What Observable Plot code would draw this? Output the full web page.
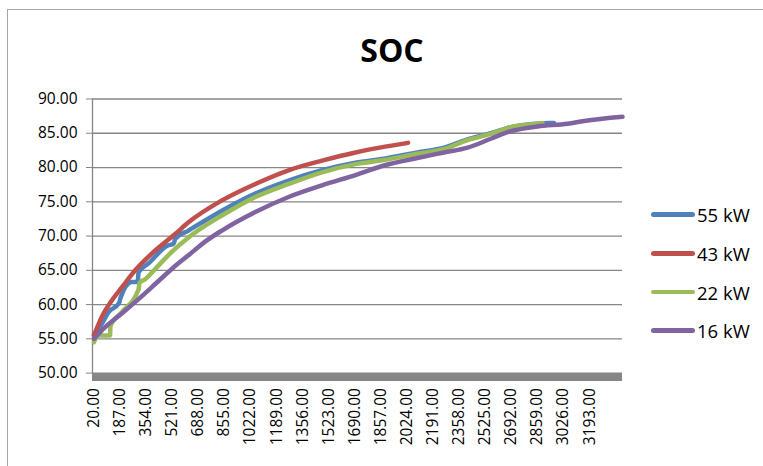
<!DOCTYPE html>
<html>
<head>
<meta charset="utf-8">
<script src="https://cdn.jsdelivr.net/npm/d3@7"></script>
<script src="https://cdn.jsdelivr.net/npm/@observablehq/plot@0.6"></script>
<style>
  body { margin: 0; background: #fff; }
  #wrap { position: relative; width: 763px; height: 466px; overflow: hidden; background: #fff; }
  #border { position: absolute; left: 7px; top: 9px; width: 820px; height: 520px; border: 1.5px solid #a6a6a6; box-sizing: border-box; }
  #title { position: absolute; left: 292px; width: 200px; top: 28px; text-align: center; font: bold 32px/44px 'Open Sans', sans-serif; color: #000; }
  #chart { position: absolute; left: 0; top: 0; }
  .item { position: absolute; left: 651px; height: 24px; display: flex; align-items: center; font: 18.5px 'Open Sans', sans-serif; color: #000; white-space: nowrap; }
  .swatch { width: 44px; height: 4.5px; border-radius: 3px; margin-right: 2px; }
</style>
</head>
<body>
<div id="wrap">
  <div id="border"></div>
  <div id="chart"></div>
  <div id="title">SOC</div>
  <div id="legend"></div>
</div>
<script>
// ---- data ----
const seriesNames = ["55 kW", "43 kW", "22 kW", "16 kW"];
const seriesColors = ["#4F81BD", "#C0504D", "#9BBB59", "#8064A2"];

const xTickLabels = [20, 187, 354, 521, 688, 855, 1022, 1189, 1356, 1523, 1690, 1857, 2024, 2191, 2358, 2525, 2692, 2859, 3026, 3193];
const yTickLabels = [50, 55, 60, 65, 70, 75, 80, 85, 90];

const x55 = [20, 70, 113, 180, 190, 262, 300, 305, 369, 490, 530, 540, 625, 839, 1053, 1266, 1480, 1694, 1877, 2091, 2262, 2412, 2561, 2689, 2860, 2930, 2965];
const y55 = [55.6, 57.2, 58.9, 60.2, 61.0, 63.3, 63.3, 64.7, 66.0, 68.6, 68.9, 69.6, 70.8, 73.7, 76.2, 78.1, 79.6, 80.7, 81.3, 82.2, 82.9, 84.1, 85.0, 85.9, 86.4, 86.5, 86.5];

const x43 = [20, 70, 134, 198, 284, 412, 540, 625, 839, 1053, 1266, 1480, 1694, 1850, 2031];
const y43 = [55.5, 58.2, 60.6, 62.5, 65.0, 67.9, 70.3, 72.0, 75.2, 77.6, 79.6, 81.0, 82.2, 82.9, 83.6];

const x22 = [20, 45, 123, 125, 198, 305, 312, 348, 412, 518, 625, 839, 1053, 1266, 1480, 1694, 1877, 2091, 2262, 2412, 2561, 2689, 2860, 2892];
const y22 = [54.5, 55.5, 55.5, 56.9, 58.9, 62.2, 63.2, 63.7, 65.2, 67.7, 69.8, 73.0, 75.7, 77.6, 79.3, 80.5, 81.1, 82.0, 82.7, 84.0, 84.9, 85.9, 86.4, 86.5];

const x16 = [20, 91, 198, 305, 412, 518, 625, 745, 839, 1053, 1266, 1480, 1694, 1877, 2091, 2262, 2412, 2561, 2689, 2860, 3052, 3159, 3404];
const y16 = [55.0, 56.7, 58.7, 60.8, 63.0, 65.2, 67.2, 69.4, 70.8, 73.5, 75.7, 77.4, 78.9, 80.3, 81.4, 82.2, 82.9, 84.2, 85.3, 86.0, 86.4, 86.8, 87.4];

// ---- build table ----
const xs = [x55, x43, x22, x16];
const ys = [y55, y43, y22, y16];
const rows = [];
seriesNames.forEach((s, i) => xs[i].forEach((x, j) => rows.push({series: s, x, y: ys[i][j]})));

const grid = "#868686";
const chart = Plot.plot({
  width: 763,
  height: 466,
  marginLeft: 92,
  marginRight: 141,
  marginTop: 98.5,
  marginBottom: 93.4,
  x: {domain: [10.4, 3404], label: null},
  y: {domain: [50, 90], label: null},
  color: {domain: seriesNames, range: seriesColors},
  style: {fontFamily: "'Open Sans', sans-serif", fontSize: "15.5px", color: "#000", background: "transparent", overflow: "visible"},
  marks: [
    Plot.gridY(yTickLabels, {stroke: grid, strokeOpacity: 1, strokeWidth: 1.3}),
    Plot.ruleY([50], {stroke: grid, strokeWidth: 8, dy: 4}),
    Plot.frame({anchor: "left", stroke: grid, strokeWidth: 1.3}),
    Plot.axisY(yTickLabels, {tickSize: 6, tickPadding: 9, tickFormat: d => d.toFixed(2), stroke: grid, fill: "#000", label: null}),
    Plot.axisX(xTickLabels, {tickSize: 0, tickPadding: 15, tickRotate: -90, tickFormat: d => d.toFixed(2), fill: "#000", label: null}),
    Plot.line(rows, {x: "x", y: "y", z: "series", stroke: "series", curve: "monotone-x", strokeWidth: 4.5, strokeLinecap: "round", strokeLinejoin: "round"})
  ]
});
document.getElementById("chart").appendChild(chart);

// ---- legend ----
const legendY = [214.6, 253.3, 292, 330.7];
const legend = d3.select("#legend");
seriesNames.forEach((s, i) => {
  const it = legend.append("div").attr("class", "item").style("top", (legendY[i] - 12) + "px");
  it.append("div").attr("class", "swatch").style("background", seriesColors[i]);
  it.append("span").text(s);
});
</script>
</body>
</html>
